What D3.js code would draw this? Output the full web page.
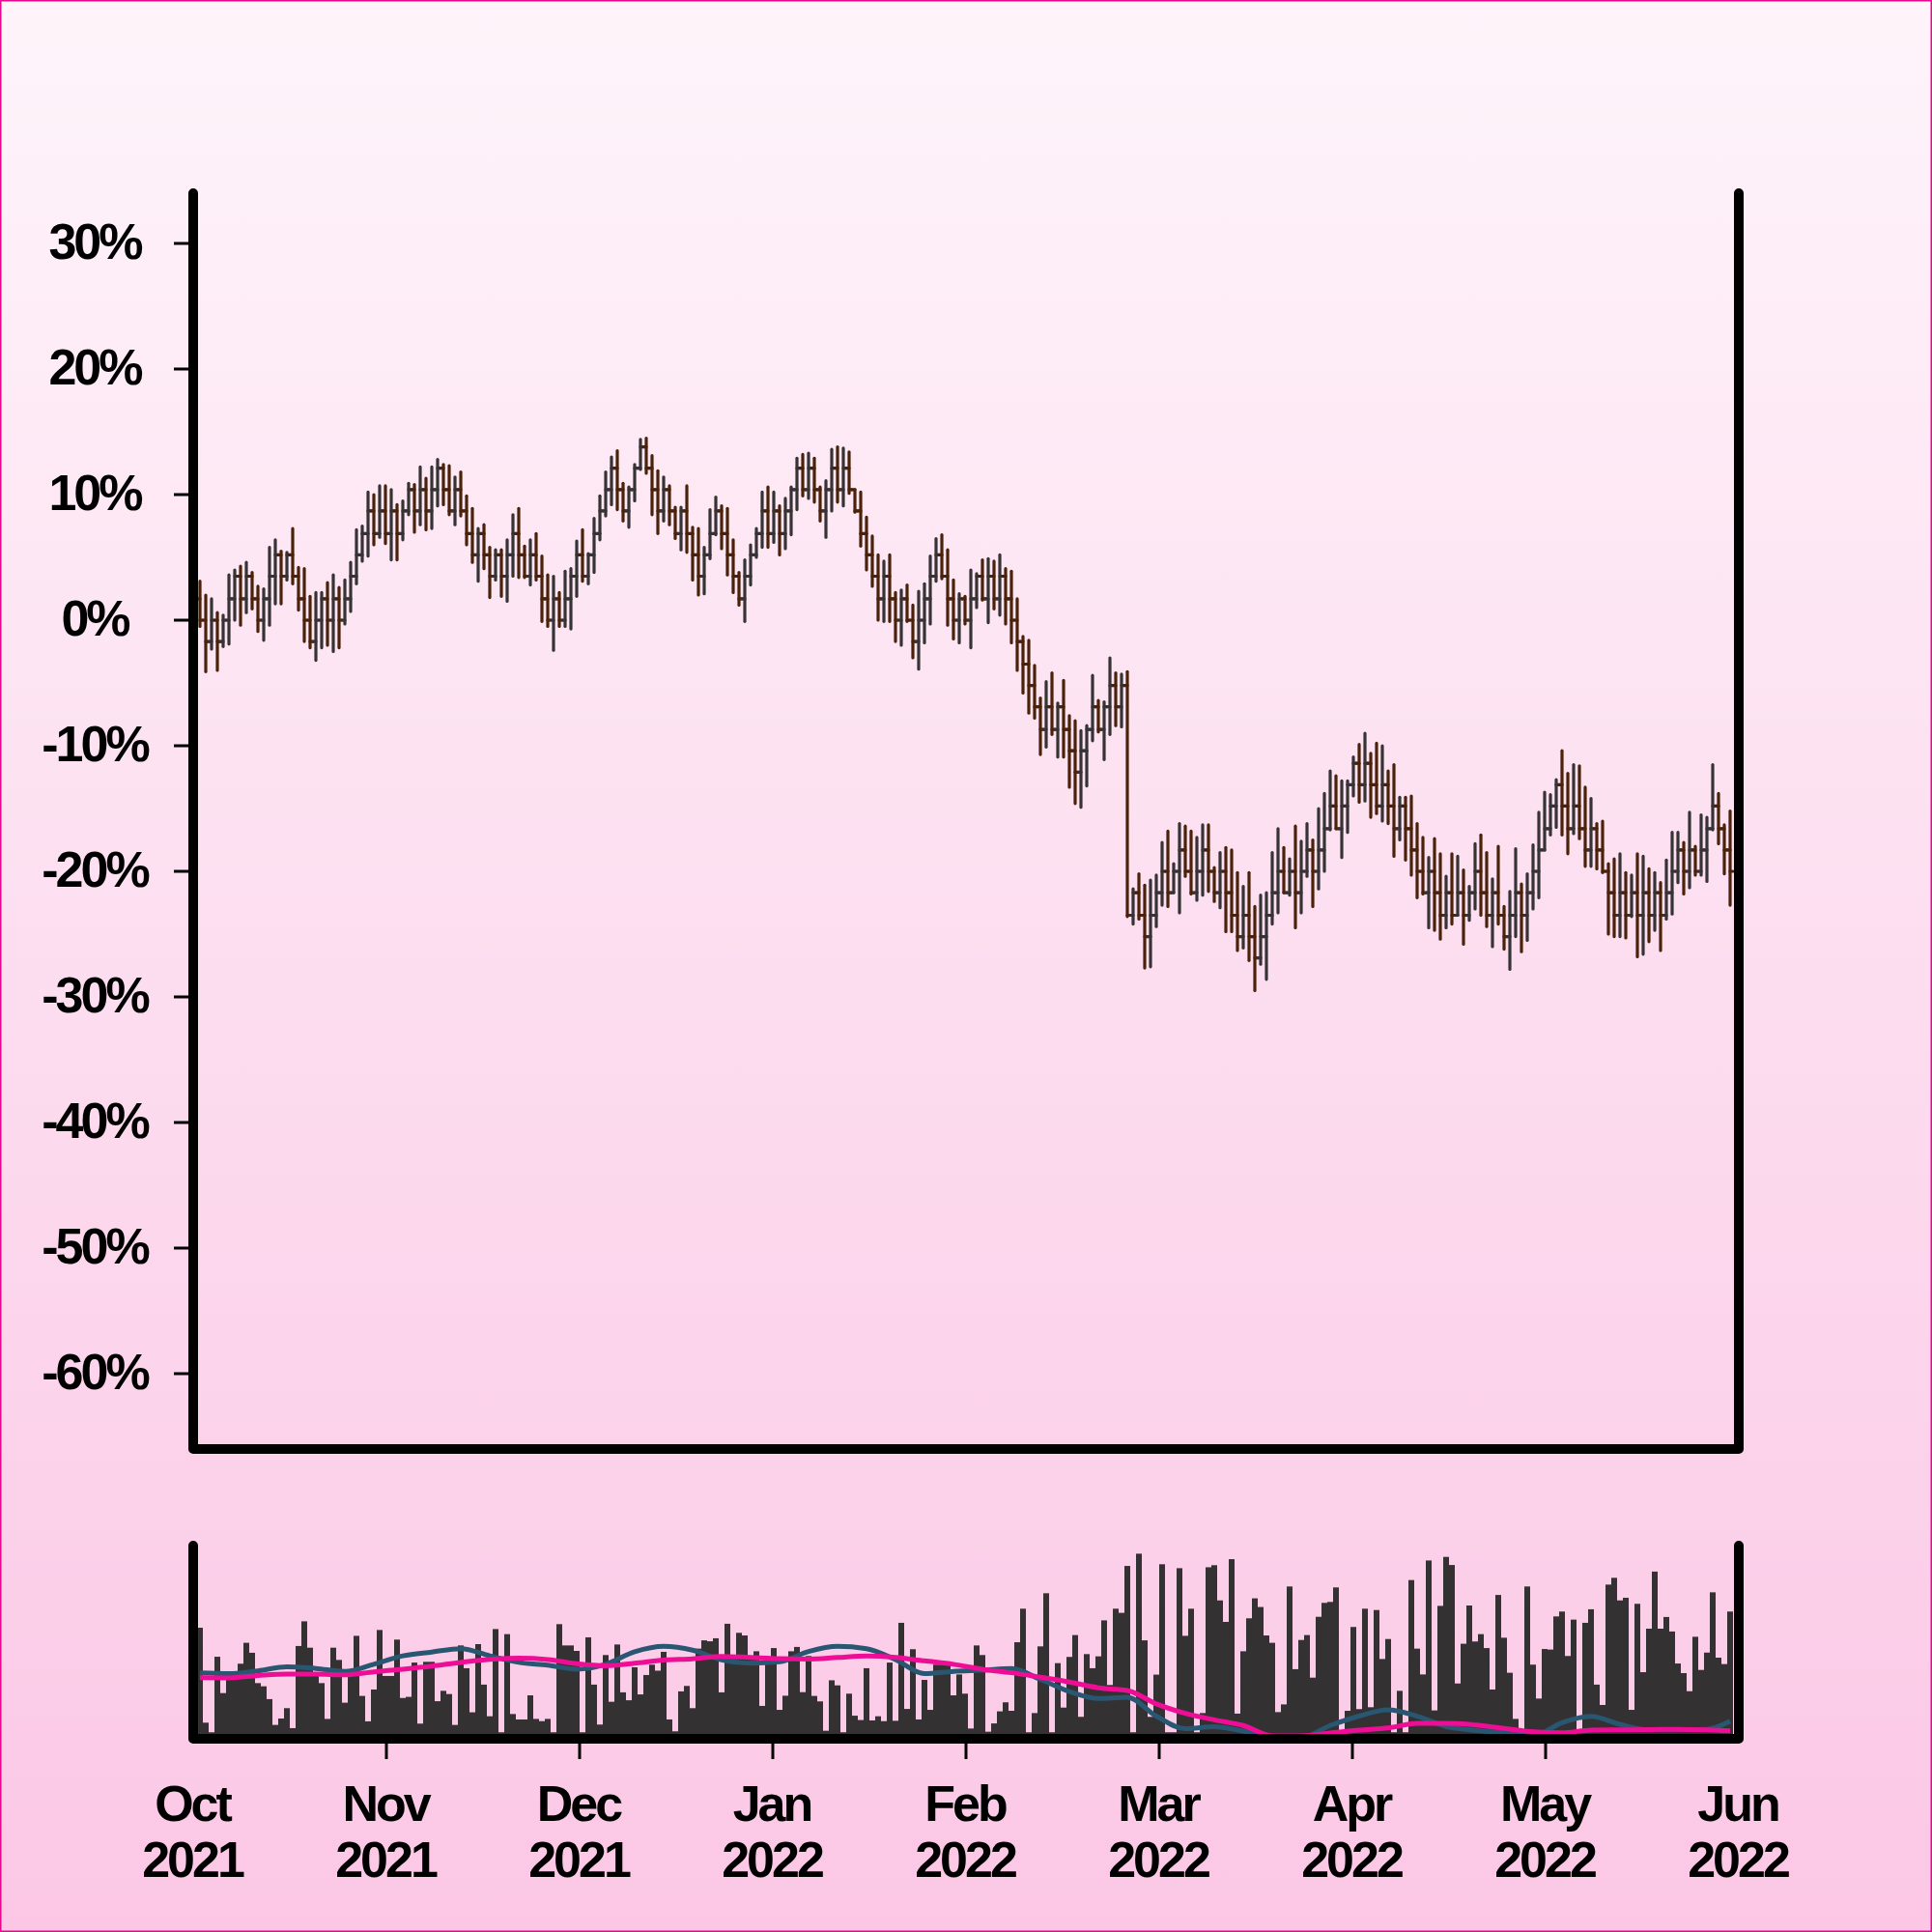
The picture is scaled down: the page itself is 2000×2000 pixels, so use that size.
<!DOCTYPE html>
<html><head><meta charset="utf-8">
<script src="https://cdn.jsdelivr.net/npm/d3@7"></script>
<style>html,body{margin:0;padding:0;background:#fff;}svg{display:block}</style>
</head><body>
<svg id="chart" width="2000" height="2000"></svg>
<script>
// ---- DATA (percent change; items are consecutive sessions) ----
const opens = [
 1.7,0,-1.7,0,-1.7,0,1.7,3.5,1.7,3.5,
 1.7,0,1.7,3.5,5.2,3.5,5.2,3.5,1.7,0,
 -1.7,0,1.7,0,1.7,0,1.7,3.5,5.2,6.9,
 8.7,6.9,8.7,6.9,8.7,6.9,8.7,10.4,8.7,10.4,
 8.7,10.4,12.1,10.4,8.7,10.4,8.7,6.9,5.2,6.9,
 5.2,3.5,5.2,3.5,5.2,6.9,5.2,3.5,5.2,3.5,
 1.7,0,1.7,0,1.7,3.5,5.2,3.5,5.2,6.9,
 8.7,10.4,12.1,10.4,8.7,10.4,12.1,13.8,12.1,10.4,
 8.7,10.4,8.7,6.9,8.7,6.9,5.2,3.5,5.2,6.9,
 8.7,6.9,5.2,3.5,1.7,3.5,5.2,6.9,8.7,6.9,
 8.7,6.9,8.7,10.4,12.1,10.4,12.1,10.4,8.7,10.4,
 12.1,10.4,12.1,10.4,8.7,6.9,5.2,3.5,1.7,3.5,
 1.7,0,1.7,0,-1.7,0,1.7,3.5,5.2,3.5,
 1.7,0,1.7,0,1.7,3.5,1.7,3.5,1.7,3.5,
 1.7,0,-1.7,-3.5,-5.2,-6.9,-8.7,-6.9,-8.7,-6.9,
 -8.7,-10.4,-12.1,-10.4,-8.7,-6.9,-8.7,-6.9,-5.2,-6.9,
 -5.2,-23.5,-21.7,-23.5,-25.2,-23.5,-21.7,-20.0,-21.7,-20.0,
 -18.3,-20.0,-21.7,-20.0,-18.3,-20.0,-21.7,-20.0,-21.7,-23.5,
 -25.2,-23.5,-25.2,-26.9,-25.2,-23.5,-21.7,-20.0,-21.7,-20.0,
 -21.7,-20.0,-18.3,-20.0,-18.3,-16.6,-14.8,-16.6,-14.8,-13.1,
 -11.4,-13.1,-11.4,-13.1,-14.8,-13.1,-14.8,-16.6,-14.8,-16.6,
 -18.3,-20.0,-21.7,-20.0,-21.7,-23.5,-21.7,-23.5,-21.7,-23.5,
 -21.7,-20.0,-21.7,-23.5,-21.7,-23.5,-25.2,-23.5,-21.7,-23.5,
 -21.7,-20.0,-18.3,-16.6,-14.8,-13.1,-14.8,-16.6,-14.8,-16.6,
 -18.3,-16.6,-18.3,-20.0,-21.7,-23.5,-21.7,-23.5,-21.7,-23.5,
 -21.7,-23.5,-21.7,-23.5,-21.7,-20.0,-18.3,-20.0,-18.3,-20.0,
 -18.3,-16.6,-14.8,-16.6,-18.3
];
const highs = [
 3.1,2.0,1.7,0.6,0.4,3.6,4.0,4.3,4.6,3.8,
 2.7,2.5,5.8,6.4,5.5,5.4,7.3,4.2,4.1,1.9,
 2.2,2.2,3.0,3.6,2.6,3.2,4.6,7.2,7.5,10.2,
 10.0,10.7,10.7,10.4,9.2,9.5,10.9,10.8,12.2,11.3,
 12.2,12.8,12.4,12.3,11.4,11.8,9.9,8.9,7.3,7.6,
 5.8,5.6,5.6,6.4,8.4,8.9,5.9,6.4,6.9,5.1,
 3.6,3.5,2.2,3.9,4.1,6.3,7.2,5.3,8.1,9.9,
 11.8,13.0,13.5,10.9,10.6,12.4,14.4,14.5,13.1,11.9,
 11.4,10.7,9.0,9.0,10.7,7.4,7.3,5.8,8.8,9.8,
 9.1,8.9,6.4,3.8,4.8,6.0,7.3,10.2,10.6,10.2,
 9.1,9.7,10.6,12.9,13.2,13.3,12.9,10.6,11.1,13.6,
 13.8,13.7,13.4,10.4,10.2,8.2,6.7,5.2,4.7,5.2,
 2.2,2.4,2.8,1.2,2.3,2.9,5.1,6.5,6.8,5.6,
 3.2,2.1,1.9,4.0,3.7,4.8,4.9,4.7,5.2,4.1,
 3.9,1.7,-1.3,-1.6,-3.6,-6.2,-4.9,-4.2,-6.6,-4.8,
 -7.6,-8.0,-8.8,-8.4,-4.4,-6.4,-6.5,-3.0,-4.2,-4.3,
 -4.1,-21.4,-20.2,-21.1,-20.7,-20.3,-17.7,-16.8,-19.4,-16.2,
 -16.4,-16.8,-17.3,-16.3,-16.3,-19.7,-18.5,-18.1,-18.3,-20.1,
 -21.2,-20.1,-22.8,-21.9,-21.7,-18.5,-16.6,-18.1,-19.0,-16.4,
 -17.6,-16.2,-17.5,-15.0,-13.8,-12.0,-12.4,-12.8,-12.8,-10.9,
 -9.9,-9.0,-10.6,-9.8,-10.0,-12.0,-11.5,-14.1,-14.1,-14.0,
 -16.2,-17.3,-18.9,-17.4,-18.6,-20.4,-18.6,-18.8,-19.9,-21.2,
 -17.8,-17.1,-18.5,-20.6,-18.0,-22.8,-21.6,-18.2,-21.0,-20.2,
 -17.9,-15.3,-13.7,-13.9,-12.7,-10.4,-12.2,-11.5,-11.6,-13.3,
 -14.2,-16.2,-16.0,-19.4,-19.0,-18.6,-20.1,-20.3,-18.6,-18.8,
 -19.8,-20.1,-20.9,-19.1,-16.9,-16.9,-17.7,-15.3,-18.0,-15.5,
 -15.7,-11.5,-13.8,-16.3,-15.2
];
const lows = [
 -0.5,-4.1,-2.3,-4.0,-2.1,-1.9,0.0,-0.4,0.6,0.9,
 -0.9,-1.6,-0.4,1.3,1.3,3.2,2.9,0.8,-1.7,-2.2,
 -3.2,-2.2,-2.0,-2.5,-2.2,-0.3,0.7,2.9,4.7,5.1,
 6.0,6.6,6.1,4.8,4.8,6.4,8.4,7.0,7.6,7.2,
 7.3,9.1,9.2,8.4,7.6,8.3,6.0,4.6,3.1,4.1,
 1.8,3.2,1.9,1.5,3.5,3.4,3.4,2.8,3.2,-0.1,
 -0.5,-2.4,-0.5,-0.5,-0.7,1.9,3.1,2.9,3.8,6.4,
 8.3,9.2,8.8,7.9,7.4,9.5,12.0,11.7,8.4,6.9,
 7.9,7.6,6.5,5.6,5.4,3.2,2.0,2.1,4.9,6.8,
 5.7,3.6,2.2,1.2,-0.1,2.8,5.0,5.8,5.8,6.2,
 5.2,5.7,6.8,8.8,9.9,9.7,9.4,7.9,6.6,8.7,
 9.4,9.1,10.1,8.6,5.9,4.0,2.7,0.0,-0.1,-0.1,
 -1.7,-2.0,-0.1,-3.0,-3.9,-1.8,-0.3,3.1,3.3,-0.4,
 -1.5,-1.8,-0.3,-2.2,1.0,1.6,-0.2,0.9,0.4,-0.3,
 -1.8,-4.0,-5.8,-7.4,-7.8,-10.7,-10.1,-9.1,-10.9,-10.9,
 -13.3,-14.6,-14.9,-13.2,-9.6,-8.9,-11.1,-9.1,-8.4,-8.5,
 -23.6,-24.2,-23.8,-27.7,-27.6,-24.4,-22.7,-22.8,-21.7,-23.3,
 -20.4,-21.8,-22.3,-21.9,-21.6,-22.4,-22.9,-24.8,-24.8,-26.3,
 -26.1,-27.1,-29.5,-27.4,-28.6,-24.2,-23.3,-21.7,-21.9,-24.5,
 -23.3,-20.4,-22.8,-21.4,-20.0,-16.7,-16.6,-18.9,-16.9,-14.0,
 -14.5,-14.4,-15.7,-15.4,-16.0,-16.2,-18.8,-17.5,-19.1,-20.3,
 -22.1,-21.8,-24.5,-24.7,-25.4,-24.5,-24.2,-23.5,-25.8,-23.9,
 -23.0,-23.5,-24.4,-26.0,-24.2,-26.2,-27.8,-25.2,-26.4,-25.5,
 -23.0,-22.1,-18.3,-17.1,-16.5,-17.1,-18.6,-17.0,-17.4,-19.6,
 -19.6,-19.8,-20.1,-25.0,-25.2,-25.2,-25.3,-23.6,-26.8,-26.6,
 -25.6,-24.7,-26.3,-23.8,-23.4,-20.9,-21.8,-21.3,-20.3,-20.3,
 -20.8,-16.7,-17.8,-20.2,-22.7
];
const closes = [
 0,-1.7,0,-1.7,0,1.7,3.5,1.7,3.5,1.7,
 0,1.7,3.5,5.2,3.5,5.2,3.5,1.7,0,-1.7,
 0,1.7,0,1.7,0,1.7,3.5,5.2,6.9,8.7,
 6.9,8.7,6.9,8.7,6.9,8.7,10.4,8.7,10.4,8.7,
 10.4,12.1,10.4,8.7,10.4,8.7,6.9,5.2,6.9,5.2,
 3.5,5.2,3.5,5.2,6.9,5.2,3.5,5.2,3.5,1.7,
 0,1.7,0,1.7,3.5,5.2,3.5,5.2,6.9,8.7,
 10.4,12.1,10.4,8.7,10.4,12.1,13.8,12.1,10.4,8.7,
 10.4,8.7,6.9,8.7,6.9,5.2,3.5,5.2,6.9,8.7,
 6.9,5.2,3.5,1.7,3.5,5.2,6.9,8.7,6.9,8.7,
 6.9,8.7,10.4,12.1,10.4,12.1,10.4,8.7,10.4,12.1,
 10.4,12.1,10.4,8.7,6.9,5.2,3.5,1.7,3.5,1.7,
 0,1.7,0,-1.7,0,1.7,3.5,5.2,3.5,1.7,
 0,1.7,0,1.7,3.5,1.7,3.5,1.7,3.5,1.7,
 0,-1.7,-3.5,-5.2,-6.9,-8.7,-6.9,-8.7,-6.9,-8.7,
 -10.4,-12.1,-10.4,-8.7,-6.9,-8.7,-6.9,-5.2,-6.9,-5.2,
 -23.5,-21.7,-23.5,-25.2,-23.5,-21.7,-20.0,-21.7,-20.0,-18.3,
 -20.0,-21.7,-20.0,-18.3,-20.0,-21.7,-20.0,-21.7,-23.5,-25.2,
 -23.5,-25.2,-26.9,-25.2,-23.5,-21.7,-20.0,-21.7,-20.0,-21.7,
 -20.0,-18.3,-20.0,-18.3,-16.6,-14.8,-16.6,-14.8,-13.1,-11.4,
 -13.1,-11.4,-13.1,-14.8,-13.1,-14.8,-16.6,-14.8,-16.6,-18.3,
 -20.0,-21.7,-20.0,-21.7,-23.5,-21.7,-23.5,-21.7,-23.5,-21.7,
 -20.0,-21.7,-23.5,-21.7,-23.5,-25.2,-23.5,-21.7,-23.5,-21.7,
 -20.0,-18.3,-16.6,-14.8,-13.1,-14.8,-16.6,-14.8,-16.6,-18.3,
 -16.6,-18.3,-20.0,-21.7,-23.5,-21.7,-23.5,-21.7,-23.5,-21.7,
 -23.5,-21.7,-23.5,-21.7,-20.0,-18.3,-20.0,-18.3,-20.0,-18.3,
 -16.6,-14.8,-16.6,-18.3,-20.0
];
const volumes = [
 56.4,6.0,0.9,41.0,21.7,33.0,33.0,37.3,48.4,43.1,
 27.0,25.3,18.5,4.8,8.2,13.7,3.1,46.7,59.8,45.8,
 31.3,27.0,8.0,45.8,39.3,16.6,33.0,52.1,20.2,6.7,
 23.6,55.2,30.8,30.8,50.1,19.1,19.7,37.9,5.5,38.3,
 38.3,17.4,22.9,21.2,4.8,47.0,34.9,11.5,47.7,26.2,
 9.4,55.7,0.9,53.0,10.6,7.7,7.7,20.5,8.0,6.8,
 8.0,0.9,58.3,47.0,47.0,44.1,0.9,51.3,26.2,5.0,
 41.9,17.1,47.5,22.1,17.9,35.4,21.0,31.3,36.8,33.6,
 43.6,7.7,1.4,22.6,25.5,13.7,45.3,49.7,49.2,50.8,
 22.1,58.5,40.2,53.7,52.3,40.2,43.9,14.9,38.8,45.6,
 12.8,20.3,43.9,46.2,22.2,41.4,20.2,17.3,1.7,28.5,
 25.8,0.9,21.4,9.7,7.4,34.9,7.2,9.4,6.8,37.9,
 7.0,59.0,13.3,45.0,7.7,28.7,12.8,36.8,36.8,36.8,
 20.5,31.6,21.4,2.9,47.0,41.9,1.2,5.6,12.0,16.8,
 12.3,48.7,66.5,0.9,11.1,46.5,74.7,0.9,37.6,14.0,
 40.9,52.5,9.1,42.4,34.9,41.2,60.3,26.0,66.5,64.3,
 89.2,0.9,95.7,49.7,9.1,31.5,90.1,0.9,0.9,88.0,
 52.1,66.5,0.9,11.1,88.5,89.6,70.9,59.5,92.8,10.8,
 43.9,61.4,72.0,67.4,52.3,48.4,11.6,15.7,78.3,34.4,
 49.9,52.5,29.9,62.2,69.6,70.1,77.8,0.9,12.3,56.8,
 13.2,66.5,14.2,65.8,39.8,50.4,0.9,22.9,0.9,81.7,
 45.3,31.6,92.1,12.5,68.0,94.0,89.7,26.8,47.9,68.2,
 49.1,53.0,45.6,23.6,73.8,51.1,32.5,8.0,0.9,78.3,
 36.8,18.8,45.1,44.8,62.4,65.0,41.4,60.7,0.9,59.0,
 66.2,26.2,15.4,79.3,82.9,70.9,72.3,12.8,69.1,32.8,
 55.9,86.2,55.9,62.1,54.4,37.4,32.3,22.7,51.6,34.0,
 43.2,75.2,40.5,37.1,65.0
];
// moving-average style overlay lines, sampled at these session numbers
const maItems = [1,6,11,16,21,26,31,36,41,46,51,56,61,66,71,76,81,86,91,96,101,106,111,116,121,126,131,136,141,146,151,156,161,166,171,176,181,186,191,196,201,206,211,216,221,226,231,236,241,246,251,256,261,265];
const maBlue = [32.4,32.0,33.5,35.7,34.8,33.2,37.0,41.5,43.5,45.3,41.5,38.0,36.5,34.4,37.0,43.6,46.5,44.5,39.3,37.6,38.3,43.8,46.5,45.3,39.5,32.0,33.2,33.8,34.7,29.0,22.5,18.8,19.5,9.5,2.8,3.8,1.5,-2,-2,4.5,9.5,12.8,9.4,4.0,1.9,0.5,-1,6.0,9.3,5.1,2.2,2.2,2.5,6.8];
const maPink = [29.9,29.8,31.0,31.8,31.8,31.4,33.0,34.4,36.0,38.0,39.6,40.2,39.5,37.3,36.2,37.6,39.2,39.9,41.2,40.6,40.0,39.8,40.6,41.4,40.7,38.8,37.0,34.4,32.5,30.1,27.6,24.5,23.1,16.0,11.0,7.5,4.5,-1,-1,0.5,2.0,3.2,5.6,5.6,4.8,3.0,1.2,0.6,2.1,2.2,2.3,2.5,2.2,1.7];
const yTickValues = [30,20,10,0,-10,-20,-30,-40,-50,-60];
const monthLabels = [["Oct","2021"],["Nov","2021"],["Dec","2021"],["Jan","2022"],["Feb","2022"],["Mar","2022"],["Apr","2022"],["May","2022"],["Jun","2022"]];

// ---- DRAW ----
const N = closes.length;
const svg = d3.select("#chart");
const defs = svg.append("defs");
const g = defs.append("linearGradient").attr("id","bg").attr("x1",0).attr("y1",0).attr("x2",0).attr("y2",1);
g.append("stop").attr("offset","0%").attr("stop-color","#fef4fa");
g.append("stop").attr("offset","100%").attr("stop-color","#fbc7e5");
defs.append("clipPath").attr("id","volclip").append("rect").attr("x",200).attr("y",1595).attr("width",1600).attr("height",200);

svg.append("rect").attr("width",2000).attr("height",2000).attr("fill","url(#bg)");
svg.append("rect").attr("x",0.75).attr("y",0.75).attr("width",1998.5).attr("height",1998.5)
  .attr("fill","none").attr("stroke","#e8078c").attr("stroke-width",1.5);

const x = d3.scaleLinear().domain([1, N]).range([207, 1791]);
const y = d3.scaleLinear().domain([-66, 34]).range([1500, 200]);
const yv = d3.scaleLinear().domain([0, 100]).range([1795, 1600]);
const xm = d3.scalePoint().domain(d3.range(monthLabels.length)).range([200, 1800]);

const UP = "#363335", DOWN = "#4a2109";
const idx = d3.range(N);

// OHLC bars
const ohlc = svg.append("g").attr("stroke-width",3.2).attr("stroke-linecap","round").attr("fill","none");
const bar = ohlc.selectAll("g").data(idx).join("g")
  .attr("stroke", i => closes[i] >= opens[i] ? UP : DOWN);
bar.append("line").attr("x1", i => x(i+1)).attr("x2", i => x(i+1))
  .attr("y1", i => y(highs[i])).attr("y2", i => y(lows[i]));
bar.append("line").attr("x1", i => x(i+1) - 3).attr("x2", i => x(i+1))
  .attr("y1", i => y(opens[i])).attr("y2", i => y(opens[i]));
bar.append("line").attr("x1", i => x(i+1)).attr("x2", i => x(i+1) + 3)
  .attr("y1", i => y(closes[i])).attr("y2", i => y(closes[i]));

// volume bars
svg.append("g").attr("fill","#343133").selectAll("rect").data(idx).join("rect")
  .attr("x", i => x(i+1) - 3).attr("width", 6)
  .attr("y", i => yv(volumes[i])).attr("height", i => yv(0) - yv(volumes[i]));

// overlay lines
const lg = svg.append("g").attr("clip-path","url(#volclip)").attr("fill","none").attr("stroke-width",5).attr("stroke-linejoin","round");
const line = arr => d3.line().x((d,k) => x(maItems[k])).y(d => yv(d)).curve(d3.curveMonotoneX)(arr);
lg.append("path").attr("d", line(maBlue)).attr("stroke","#295671");
lg.append("path").attr("d", line(maPink)).attr("stroke","#ee0e95");

// frames
const frame = svg.append("g").attr("fill","none").attr("stroke","#000").attr("stroke-width",10)
  .attr("stroke-linecap","round").attr("stroke-linejoin","round");
frame.append("path").attr("d", d3.line()([[200,200],[200,1500],[1800,1500],[1800,200]]));
frame.append("path").attr("d", d3.line()([[200,1600],[200,1800],[1800,1800],[1800,1600]]));

// y ticks & labels
const fontFam = "'Liberation Sans', Arial, Helvetica, sans-serif";
const yt = svg.append("g");
yt.selectAll("line").data(yTickValues).join("line")
  .attr("x1",180).attr("x2",200).attr("y1", d => y(d)).attr("y2", d => y(d))
  .attr("stroke","#000").attr("stroke-width",3);
yt.selectAll("text").data(yTickValues).join("text")
  .attr("x",98).attr("y", d => y(d) + 15.5)
  .attr("text-anchor","middle").attr("font-family",fontFam).attr("font-weight","bold")
  .attr("font-size",52).attr("letter-spacing","-3px").attr("fill","#000")
  .text(d => d + "%");

// x ticks & labels
const inner = d3.range(1, monthLabels.length - 1);
svg.append("g").selectAll("line").data(inner).join("line")
  .attr("x1", d => xm(d)).attr("x2", d => xm(d)).attr("y1",1800).attr("y2",1821)
  .attr("stroke","#000").attr("stroke-width",3);
const xl = svg.append("g").attr("font-family",fontFam).attr("font-weight","bold")
  .attr("font-size",52).attr("letter-spacing","-3px").attr("text-anchor","middle").attr("fill","#000");
const lab = xl.selectAll("text").data(d3.range(monthLabels.length)).join("text");
lab.append("tspan").attr("x", d => xm(d) - 1).attr("y",1885).text(d => monthLabels[d][0]);
lab.append("tspan").attr("x", d => xm(d) - 1).attr("y",1943).text(d => monthLabels[d][1]);
</script>
</body></html>
